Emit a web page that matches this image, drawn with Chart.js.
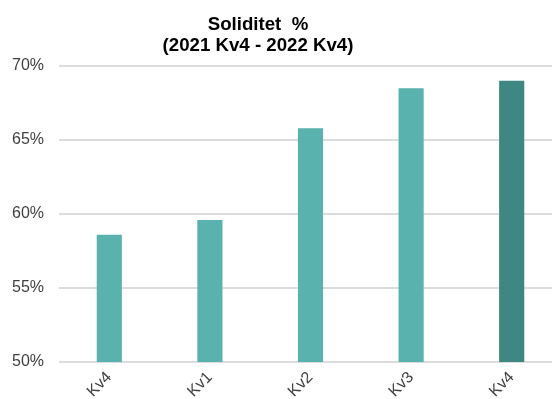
<!DOCTYPE html>
<html>
<head>
<meta charset="utf-8">
<script src="https://cdn.jsdelivr.net/npm/chart.js@4/dist/chart.umd.min.js"></script>
<style>
  html, body { margin: 0; padding: 0; background: #ffffff; overflow: hidden; }
  #wrap { position: relative; width: 562px; height: 399px; }
</style>
</head>
<body>
<div id="wrap"><canvas id="chart"></canvas></div>
<script>
// Equity ratio per quarter, 2021 Q4 to 2022 Q4
const titleLines = ['Soliditet  %', '(2021 Kv4 - 2022 Kv4)'];
const quarters = ['Kv4', 'Kv1', 'Kv2', 'Kv3', 'Kv4'];
const equityRatio = [58.6, 59.6, 65.8, 68.5, 69.0];
const barColors = ['#5ab2ae', '#5ab2ae', '#5ab2ae', '#5ab2ae', '#3e8782'];
const yTicks = [50, 55, 60, 65, 70];

const FONT = '"Liberation Sans", Arial, sans-serif';

// Two-line heading centred above the bars
const chartHeading = {
  id: 'chartHeading',
  afterDraw(chart) {
    const ctx = chart.ctx;
    ctx.save();
    ctx.fillStyle = '#000000';
    ctx.font = 'bold 18.67px ' + FONT;
    ctx.textAlign = 'center';
    ctx.textBaseline = 'alphabetic';
    ctx.fillText(titleLines[0], 258, 30);
    ctx.fillText(titleLines[1], 258, 51);
    ctx.restore();
  }
};

new Chart(document.getElementById('chart'), {
  type: 'bar',
  data: {
    labels: quarters,
    datasets: [{
      data: equityRatio,
      backgroundColor: barColors,
      borderWidth: 0,
      categoryPercentage: 1,
      barPercentage: 0.25
    }]
  },
  options: {
    responsive: true,
    maintainAspectRatio: false,
    animation: false,
    layout: { padding: { top: 66, left: 0, right: 0, bottom: 0 } },
    plugins: {
      legend: { display: false },
      title: { display: false },
      tooltip: { enabled: false }
    },
    scales: {
      x: {
        grid: { display: false, drawTicks: false },
        border: { display: false },
        ticks: {
          color: '#404040',
          font: { family: FONT, size: 16 },
          minRotation: 45,
          maxRotation: 45,
          padding: 6
        },
        afterFit(scale) { scale.height = 37; }
      },
      y: {
        min: 50,
        max: 70,
        afterBuildTicks(scale) { scale.ticks = yTicks.map(v => ({ value: v })); },
        grid: { color: '#dcdcdc', lineWidth: 2, drawTicks: false },
        border: { display: false },
        ticks: {
          color: '#404040',
          font: { family: FONT, size: 16 },
          padding: 15,
          callback: v => v + '%'
        },
        afterFit(scale) { scale.width = 59; }
      }
    }
  },
  plugins: [chartHeading]
});
</script>
</body>
</html>
